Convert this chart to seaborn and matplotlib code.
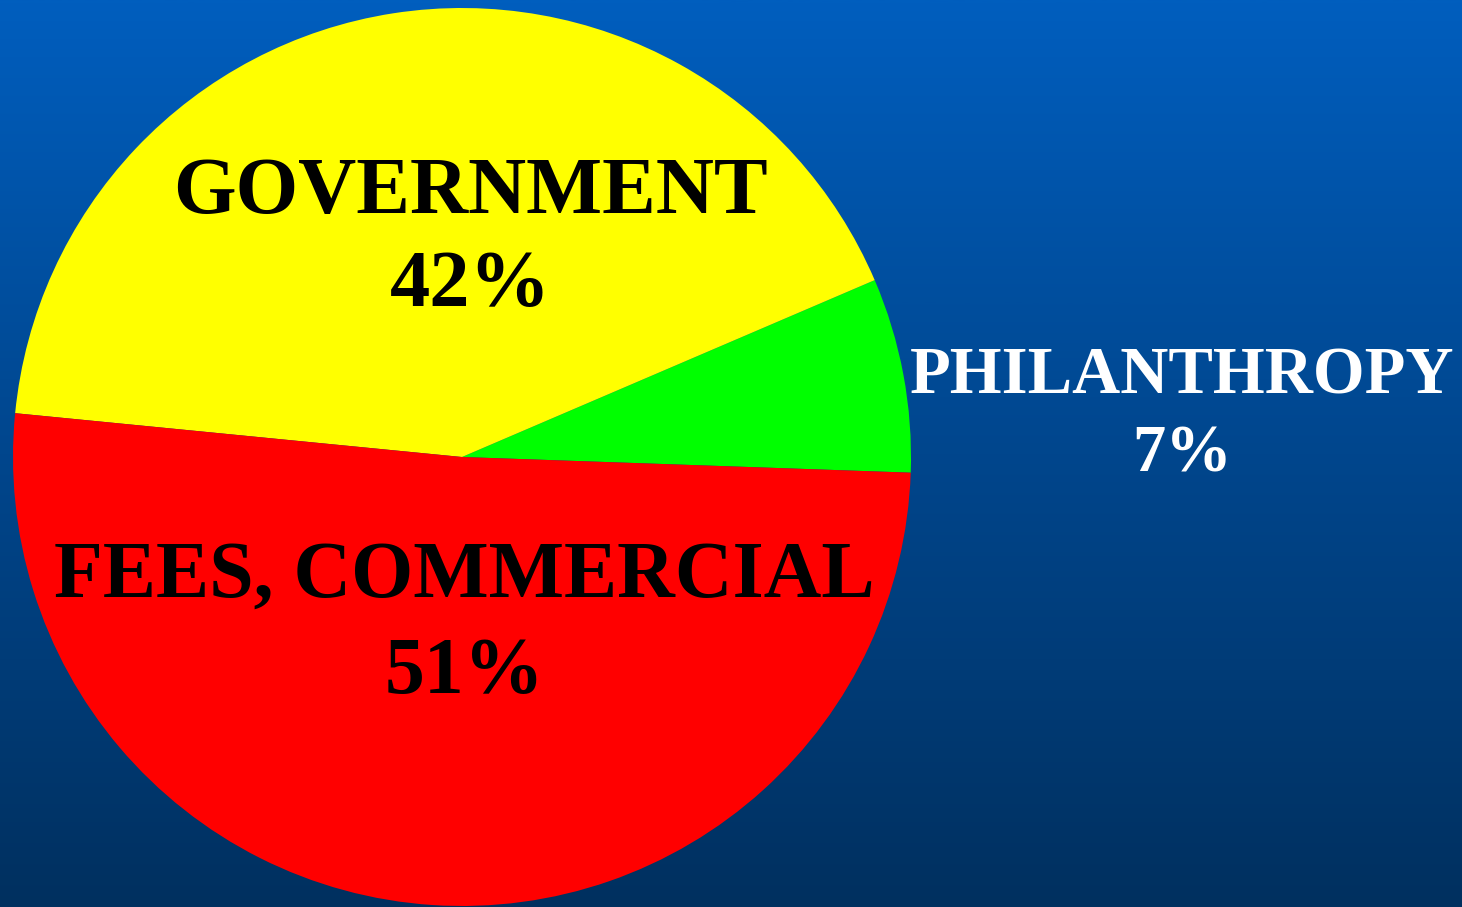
import numpy as np
import matplotlib
matplotlib.use("Agg")
import matplotlib.pyplot as plt
from matplotlib.colors import LinearSegmentedColormap
import seaborn as sns

# Funding sources (percent of total), listed counter-clockwise from the right
categories = ["PHILANTHROPY", "GOVERNMENT", "FEES, COMMERCIAL"]
shares = [7, 42, 51]
slice_colors = ["#00FF00", "#FFFF00", "#FF0000"]
label_colors = ["white", "black", "black"]

sns.set_theme(style="white")
plt.rcParams["font.family"] = ["Liberation Serif", "DejaVu Serif"]

W, H = 1462, 907
fig = plt.figure(figsize=(W / 100, H / 100), dpi=100)
ax = fig.add_axes([0, 0, 1, 1])

# vertical blue gradient backdrop
bg = LinearSegmentedColormap.from_list("bg", ["#00305F", "#00468D", "#005EBE"])
grad = np.linspace(0, 1, 512).reshape(-1, 1)
ax.imshow(grad, cmap=bg, origin="lower", extent=[0, W, 0, H],
          aspect="auto", zorder=0)

palette = sns.color_palette(slice_colors)
cx, cy, r = 462, H - 457, 449
wedges, _ = ax.pie(shares, colors=palette, startangle=-2, counterclock=True,
                   center=(cx, cy), radius=r,
                   wedgeprops=dict(linewidth=0, antialiased=True))
for w in wedges:
    w.set_zorder(2)

ax.set_xlim(0, W)
ax.set_ylim(0, H)
ax.set_aspect("equal")
ax.axis("off")

# slice captions: name over percentage (x, y, font size, line spacing)
label_pos = [(1182, H - 416, 48, 1.35),
             (470, H - 240, 58, 1.35),
             (464, H - 625, 57.5, 1.42)]
for name, pct, col, (x, y, size, ls) in zip(categories, shares, label_colors, label_pos):
    ax.text(x, y, f"{name}\n{pct}%", ha="center", va="center", color=col,
            fontsize=size, fontweight="bold", linespacing=ls, zorder=3)

fig.savefig("out.png", dpi=100)
